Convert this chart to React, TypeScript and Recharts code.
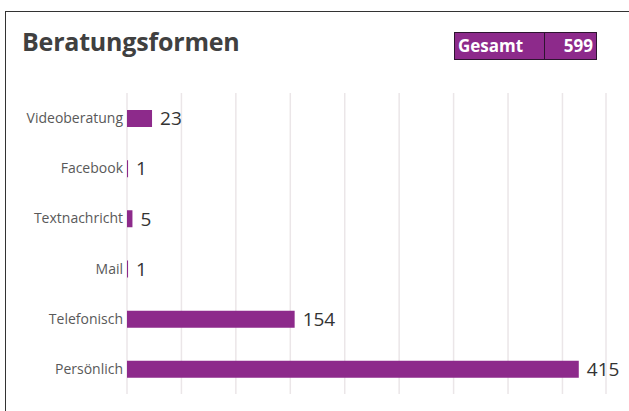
import React from "react";
import { BarChart, Bar, XAxis, YAxis, CartesianGrid, LabelList } from "recharts";

const categories = ["Videoberatung", "Facebook", "Textnachricht", "Mail", "Telefonisch", "Persönlich"];
const values = [23, 1, 5, 1, 154, 415];
const xTicks = [0, 50, 100, 150, 200, 250, 300, 350, 400];
const title = "Beratungsformen";
const totalLabel = "Gesamt";
const totalValue = 599;

const data = categories.map((name, i) => ({ name, value: values[i] }));

const PURPLE = "#8d2a8b";
const FONT = "'Open Sans', sans-serif";

export default function App() {
  return (
    <div style={{ position: "absolute", left: 0, top: 0, width: 629, height: 411, background: "#fff", fontFamily: FONT }}>
      <div style={{ position: "absolute", left: 5, top: 11, width: 624, height: 0, borderTop: "1.5px solid #333" }} />
      <div style={{ position: "absolute", left: 5, top: 11, width: 0, height: 400, borderLeft: "1.5px solid #333" }} />
      <div style={{ position: "absolute", left: 22, top: 26, fontSize: 25, fontWeight: 700, color: "#404040", lineHeight: "30px", letterSpacing: -0.2, whiteSpace: "nowrap" }}>
        {title}
      </div>
      <div style={{ position: "absolute", left: 454, top: 32, width: 143, height: 28, background: PURPLE, border: "1px solid #2e1430", boxSizing: "border-box", color: "#fff", fontWeight: 700, fontSize: 17 }}>
        <div style={{ position: "absolute", left: 89, top: 0, width: 0, height: 26, borderLeft: "1.5px solid #2e1430" }} />
        <div style={{ position: "absolute", left: 3, top: 0, lineHeight: "26px" }}>{totalLabel}</div>
        <div style={{ position: "absolute", right: 3, top: 0, lineHeight: "26px" }}>{totalValue}</div>
      </div>
      <div style={{ position: "absolute", left: 0, top: 0 }}>
        <BarChart width={629} height={411} data={data} layout="vertical" margin={{ top: 93, right: 23, bottom: 17, left: 0 }}>
          <CartesianGrid horizontal={false} stroke="#ebe6e8" strokeWidth={1.5} />
          <XAxis type="number" domain={[0, 440]} ticks={xTicks} hide />
          <YAxis
            type="category"
            dataKey="name"
            width={127}
            axisLine={false}
            tickLine={false}
            tickSize={0}
            tickMargin={4}
            tick={{ fontSize: 14, fill: "#595959", fontFamily: FONT }}
          />
          <Bar dataKey="value" fill={PURPLE} barSize={17} isAnimationActive={false}>
            <LabelList dataKey="value" position="right" offset={8} style={{ fontSize: 19, fill: "#333", fontFamily: FONT }} />
          </Bar>
        </BarChart>
      </div>
    </div>
  );
}
